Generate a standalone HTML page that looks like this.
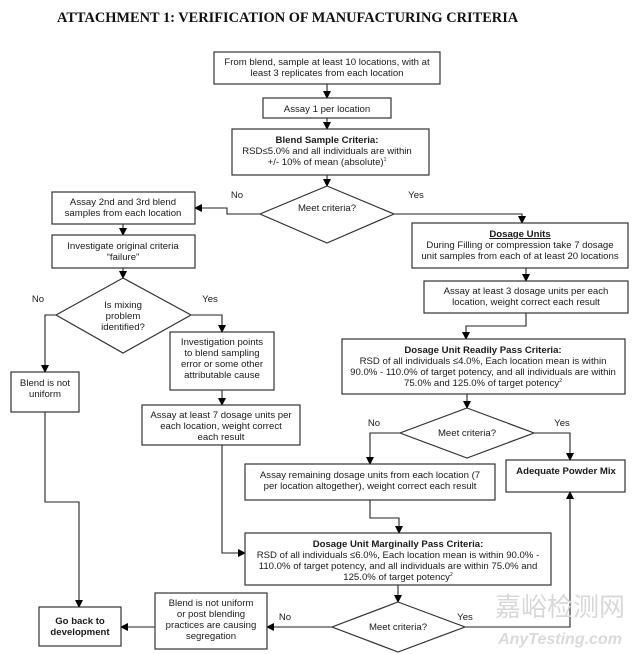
<!DOCTYPE html>
<html><head><meta charset="utf-8"><style>
html,body{margin:0;padding:0;background:#fff;}
svg{display:block;}
text{font-family:"Liberation Sans",Arial,sans-serif;font-size:9.6px;fill:#1a1a1a;}
.t{font-family:"Liberation Serif",serif;font-size:14.4px;font-weight:bold;fill:#111;}
.b{font-weight:bold;}
rect{fill:#fff;stroke:#333;stroke-width:1.2;}
polygon.d{fill:#fff;stroke:#333;stroke-width:1.2;}
path{fill:none;stroke:#222;stroke-width:1.1;}
</style></head><body>
<svg width="640" height="654" viewBox="0 0 640 654" xmlns="http://www.w3.org/2000/svg">
<defs><marker id="a" markerWidth="8" markerHeight="8" refX="7" refY="4" orient="auto" markerUnits="userSpaceOnUse"><path d="M0,0 L8,4 L0,8 Z" style="fill:#000;stroke:none"/></marker></defs>
<text class="t" x="57" y="22">ATTACHMENT 1:  VERIFICATION OF MANUFACTURING CRITERIA</text>

<path d="M327,84 V98" marker-end="url(#a)"/>
<path d="M327,118 V129" marker-end="url(#a)"/>
<path d="M327,175 V186" marker-end="url(#a)"/>
<path d="M260,214 H227 V208 H195" marker-end="url(#a)"/>
<path d="M394,214 H522 V223" marker-end="url(#a)"/>
<path d="M123,224 V235" marker-end="url(#a)"/>
<path d="M123,268 V278" marker-end="url(#a)"/>
<path d="M56,315 H45 V372" marker-end="url(#a)"/>
<path d="M191,315 H222 V332" marker-end="url(#a)"/>
<path d="M222,390 V405" marker-end="url(#a)"/>
<path d="M526,268 V281" marker-end="url(#a)"/>
<path d="M526,313 V326 H466 V339" marker-end="url(#a)"/>
<path d="M467,394 V408" marker-end="url(#a)"/>
<path d="M400,433 H370 V464" marker-end="url(#a)"/>
<path d="M534,433 H570 V460" marker-end="url(#a)"/>
<path d="M370,500 V518 H399 V533" marker-end="url(#a)"/>
<path d="M222,445 V553 H245" marker-end="url(#a)"/>
<path d="M398,585 V602" marker-end="url(#a)"/>
<path d="M465,627 H570 V492" marker-end="url(#a)"/>
<path d="M332,627 H267" marker-end="url(#a)"/>
<path d="M155,627 H121" marker-end="url(#a)"/>
<path d="M45,412 V502 H79 V607" marker-end="url(#a)"/>

<rect x="214" y="52" width="226" height="32"/>
<text x="327" y="65" text-anchor="middle">From blend, sample at least 10 locations, with at</text>
<text x="327" y="76" text-anchor="middle">least 3 replicates from each location</text>

<rect x="263" y="98" width="128" height="20"/>
<text x="327" y="112" text-anchor="middle">Assay 1 per location</text>

<rect x="232" y="129" width="197" height="46"/>
<text x="327" y="143" text-anchor="middle" class="b">Blend Sample Criteria:</text>
<text x="327" y="154" text-anchor="middle">RSD≤5.0% and all individuals are within</text>
<text x="327" y="165" text-anchor="middle">+/- 10% of mean (absolute)<tspan dy="-4" font-size="5">1</tspan></text>

<polygon class="d" points="327,186 394,214 327,243 260,214"/>
<text x="327" y="211" text-anchor="middle">Meet criteria?</text>
<text x="237" y="198" text-anchor="middle">No</text>
<text x="416" y="198" text-anchor="middle">Yes</text>

<rect x="52" y="192" width="143" height="32"/>
<text x="123" y="205" text-anchor="middle">Assay 2nd and 3rd blend</text>
<text x="123" y="216" text-anchor="middle">samples from each location</text>

<rect x="52" y="235" width="143" height="33"/>
<text x="123" y="249" text-anchor="middle">Investigate original criteria</text>
<text x="123" y="260" text-anchor="middle">“failure”</text>

<polygon class="d" points="123,278 191,315 123,353 56,315"/>
<text x="123" y="308" text-anchor="middle">Is mixing</text>
<text x="123" y="319" text-anchor="middle">problem</text>
<text x="123" y="330" text-anchor="middle">identified?</text>
<text x="38" y="302" text-anchor="middle">No</text>
<text x="210" y="302" text-anchor="middle">Yes</text>

<rect x="412" y="223" width="216" height="45"/>
<text x="520" y="237" text-anchor="middle" class="b" text-decoration="underline">Dosage Units</text>
<text x="520" y="248" text-anchor="middle">During Filling or compression take 7 dosage</text>
<text x="520" y="259" text-anchor="middle">unit samples from each of at least 20 locations</text>

<rect x="424" y="281" width="204" height="32"/>
<text x="526" y="294" text-anchor="middle">Assay at least 3 dosage units per each</text>
<text x="526" y="305" text-anchor="middle">location, weight correct each result</text>

<rect x="11" y="372" width="68" height="40"/>
<text x="45" y="386" text-anchor="middle">Blend is not</text>
<text x="45" y="397" text-anchor="middle">uniform</text>

<rect x="170" y="332" width="104" height="58"/>
<text x="222" y="345" text-anchor="middle">Investigation points</text>
<text x="222" y="356" text-anchor="middle">to blend sampling</text>
<text x="222" y="367" text-anchor="middle">error or some other</text>
<text x="222" y="378" text-anchor="middle">attributable cause</text>

<rect x="142" y="405" width="158" height="40"/>
<text x="221" y="418" text-anchor="middle">Assay at least 7 dosage units per</text>
<text x="221" y="429" text-anchor="middle">each location, weight correct</text>
<text x="221" y="440" text-anchor="middle">each result</text>

<rect x="342" y="339" width="283" height="55"/>
<text x="483" y="353" text-anchor="middle" class="b">Dosage Unit Readily Pass Criteria:</text>
<text x="483" y="364" text-anchor="middle">RSD of all individuals ≤4.0%, Each location mean is within</text>
<text x="483" y="375" text-anchor="middle">90.0% - 110.0% of target potency, and all individuals are within</text>
<text x="483" y="386" text-anchor="middle">75.0% and 125.0% of target potency<tspan dy="-4" font-size="5">2</tspan></text>

<polygon class="d" points="467,408 534,433 467,458 400,433"/>
<text x="467" y="436" text-anchor="middle">Meet criteria?</text>
<text x="374" y="426" text-anchor="middle">No</text>
<text x="562" y="426" text-anchor="middle">Yes</text>

<rect x="245" y="464" width="250" height="36"/>
<text x="370" y="478" text-anchor="middle">Assay remaining dosage units from each location (7</text>
<text x="370" y="489" text-anchor="middle">per location altogether), weight correct each result</text>

<rect x="506" y="460" width="119" height="32"/>
<text x="566" y="474" text-anchor="middle" class="b">Adequate Powder Mix</text>

<rect x="245" y="533" width="306" height="52"/>
<text x="398" y="547" text-anchor="middle" class="b">Dosage Unit Marginally Pass Criteria:</text>
<text x="398" y="558" text-anchor="middle">RSD of all individuals ≤6.0%, Each location mean is within 90.0% -</text>
<text x="398" y="569" text-anchor="middle">110.0% of target potency, and all individuals are within 75.0% and</text>
<text x="398" y="580" text-anchor="middle">125.0% of target potency<tspan dy="-4" font-size="5">2</tspan></text>

<polygon class="d" points="398,602 465,627 398,652 332,627"/>
<text x="398" y="630" text-anchor="middle">Meet criteria?</text>
<text x="285" y="620" text-anchor="middle">No</text>
<text x="465" y="620" text-anchor="middle">Yes</text>

<rect x="155" y="593" width="112" height="56"/>
<text x="211" y="606" text-anchor="middle">Blend is not uniform</text>
<text x="211" y="617" text-anchor="middle">or post blending</text>
<text x="211" y="628" text-anchor="middle">practices are causing</text>
<text x="211" y="639" text-anchor="middle">segregation</text>

<rect x="39" y="607" width="82" height="39"/>
<text x="80" y="624" text-anchor="middle" class="b">Go back to</text>
<text x="80" y="635" text-anchor="middle" class="b">development</text>

<text x="560" y="616" text-anchor="middle" style="font-family:'Noto Sans CJK SC',sans-serif;font-size:26px;fill:#d8d8d8;">嘉峪检测网</text>
<text x="560" y="644" text-anchor="middle" style="font-size:16px;font-style:italic;font-weight:bold;fill:#dadada;">AnyTesting.com</text>
</svg>
</body></html>
